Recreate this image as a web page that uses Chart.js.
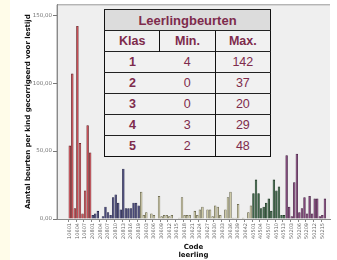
<!DOCTYPE html>
<html>
<head>
<meta charset="utf-8">
<script src="https://cdn.jsdelivr.net/npm/chart.js@4"></script>
<style>
  html, body { margin: 0; padding: 0; background: #ffffff; }
  #wrap { position: relative; width: 337px; height: 260px; overflow: hidden; }
  #strip { position: absolute; left: 0; top: 0; width: 10px; height: 260px; background: #fffce9; }
  #c { position: absolute; left: 0; top: 0; }
  #tbl {
    position: absolute; left: 104px; top: 9px; width: 167px;
    border-collapse: collapse; border: 1.5px solid #111;
    font-family: "Liberation Sans", Arial, sans-serif; color: #7e2b4c;
    background: #f1f1f1; table-layout: fixed;
  }
  #tbl td, #tbl th { text-align: center; padding: 0; font-size: 12.5px; height: 20px; border-top: 1px solid #222; }
  #tbl th { font-weight: bold; }
  #tbl td + td, #tbl th + th { border-left: 1.5px solid #111; }
  #tbl tr.title th { background: #dcdcdc; font-size: 13px; }
</style>
</head>
<body>
<div id="wrap">
  <div id="strip"></div>
  <canvas id="c" width="337" height="260"></canvas>
  <table id="tbl"></table>
</div>
<script>
// Aantal beurten per leerling, per klas (gelezen uit de figuur)
const klas1 = [54, 107, 8, 142, 56, 4, 21, 69, 49];
const klas2 = [3, 4, 6, 0, 2, 9, 5, 3, 16, 18, 12, 7, 37, 8, 8, 8, 12, 12, 10];
const klas3 = [20, 3, 5, 0, 4, 3, 0, 17, 2, 3, 3, 2, 3, 0, 0, 1, 16, 3, 3, 3, 0, 6, 3, 7, 9, 0, 7, 7, 2, 10,
               9, 3, 0, 7, 16, 20, 1, 1, 11, 0, 1, 0, 5, 10];
const klas4 = [19, 29, 19, 8, 9, 12, 15, 6, 29, 21, 24, 3, 3];
const klas5 = [47, 9, 2, 27, 48, 5, 8, 16, 4, 17, 4, 15, 15, 2, 3, 15];

const klasPrefix = ['106', '208', '306', '405', '502'];
const klasFill = ['#c6323b', '#2c2c66', '#cbc69d', '#1f4e2b', '#6f2a67'];
const klasBorder = ['#5e1216', '#13133a', '#5d5b3f', '#0c2913', '#3a1036'];

// tabel
const tabelKlas = ['1', '2', '3', '4', '5'];
const tabelMin = [4, 0, 0, 3, 2];
const tabelMax = [142, 37, 20, 29, 48];

const yTicks = [0, 50, 100, 150];

// lege ruimte links en rechts van de staven (in categorieen)
const leegLinks = 5;
const leegRechts = 2;

// tabel opbouwen
let tbl = document.getElementById('tbl');
let html = '<tr class="title"><th colspan="3">Leerlingbeurten</th></tr>';
html += '<tr><th>Klas</th><th>Min.</th><th>Max.</th></tr>';
for (let i = 0; i < tabelKlas.length; i++) {
    html += '<tr><th>' + tabelKlas[i] + '</th><td>' + tabelMin[i] + '</td><td>' + tabelMax[i] + '</td></tr>';
}
tbl.innerHTML = html;

// labels, data en kleuren samenvoegen
let labels = [];
let values = [];
let fills = [];
let borders = [];
for (let i = 0; i < leegLinks; i++) { labels.push(''); values.push(null); fills.push('#000'); borders.push('#000'); }
[klas1, klas2, klas3, klas4, klas5].forEach(function (arr, k) {
    arr.forEach(function (v, i) {
        labels.push(klasPrefix[k] + String(i + 1).padStart(2, '0'));
        values.push(v);
        fills.push(klasFill[k]);
        borders.push(klasBorder[k]);
    });
});
for (let i = 0; i < leegRechts; i++) { labels.push(''); values.push(null); fills.push('#000'); borders.push('#000'); }

function toonLabel(i) {
    return labels[i] !== '' && (i - leegLinks) % 3 === 0;
}

const plotBg = {
    id: 'plotBg',
    beforeDraw(chart) {
        const a = chart.chartArea;
        const ctx = chart.ctx;
        ctx.save();
        ctx.fillStyle = '#efefef';
        ctx.fillRect(a.left, a.top, a.right - a.left, a.bottom - a.top);
        ctx.strokeStyle = '#9a9a9a';
        ctx.lineWidth = 1;
        ctx.beginPath();
        ctx.moveTo(a.left, a.bottom);
        ctx.lineTo(a.left, a.top + 0.5);
        ctx.lineTo(a.right, a.top + 0.5);
        ctx.stroke();
        ctx.restore();
    }
};

let ctx = document.getElementById('c').getContext('2d');
let chart = new Chart(ctx, {
    type: 'bar',
    data: {
        labels: labels,
        datasets: [{
            data: values,
            backgroundColor: fills,
            borderColor: borders,
            borderWidth: 0.8,
            barPercentage: 0.95,
            categoryPercentage: 1
        }]
    },
    options: {
        responsive: false,
        animation: false,
        layout: { padding: { left: 17, right: 0, top: 4, bottom: 0 } },
        plugins: { legend: { display: false }, tooltip: { enabled: false } },
        scales: {
            x: {
                offset: false,
                grid: {
                    display: true, drawOnChartArea: false, tickLength: 3,
                    color: function (c) { return toonLabel(c.index) ? '#888' : 'rgba(0,0,0,0)'; }
                },
                border: { color: '#8a8a8a' },
                afterFit: function (scale) { scale.height = 41; },
                ticks: {
                    autoSkip: false,
                    minRotation: 90,
                    maxRotation: 90,
                    padding: 1,
                    color: '#666',
                    font: { size: 5, family: 'DejaVu Sans' },
                    callback: function (val, i) { return toonLabel(i) ? labels[i] : ''; }
                },
                title: {
                    display: true,
                    text: ['Code', 'leerling'],
                    color: '#111',
                    font: { size: 7, weight: 'bold', family: 'DejaVu Sans', lineHeight: 1.1 },
                    padding: { top: 0, bottom: 1 }
                }
            },
            y: {
                min: 0,
                max: 158,
                afterBuildTicks: function (scale) {
                    scale.ticks = yTicks.map(function (v) { return { value: v }; });
                },
                afterFit: function (scale) { scale.width = 40; },
                grid: { display: true, drawOnChartArea: false, tickLength: 4, color: '#777' },
                border: { color: '#8a8a8a' },
                ticks: {
                    color: '#777',
                    padding: 1,
                    font: { size: 5.5, family: 'DejaVu Sans' },
                    callback: function (v) { return v.toFixed(2).replace('.', ','); }
                },
                title: {
                    display: true,
                    text: 'Aantal beurten per kind gecorrigeerd voor lestijd',
                    color: '#111',
                    font: { size: 7, weight: 'bold', family: 'DejaVu Sans' },
                    padding: { top: 7, bottom: 0 }
                }
            }
        }
    },
    plugins: [plotBg]
});
</script>
</body>
</html>
